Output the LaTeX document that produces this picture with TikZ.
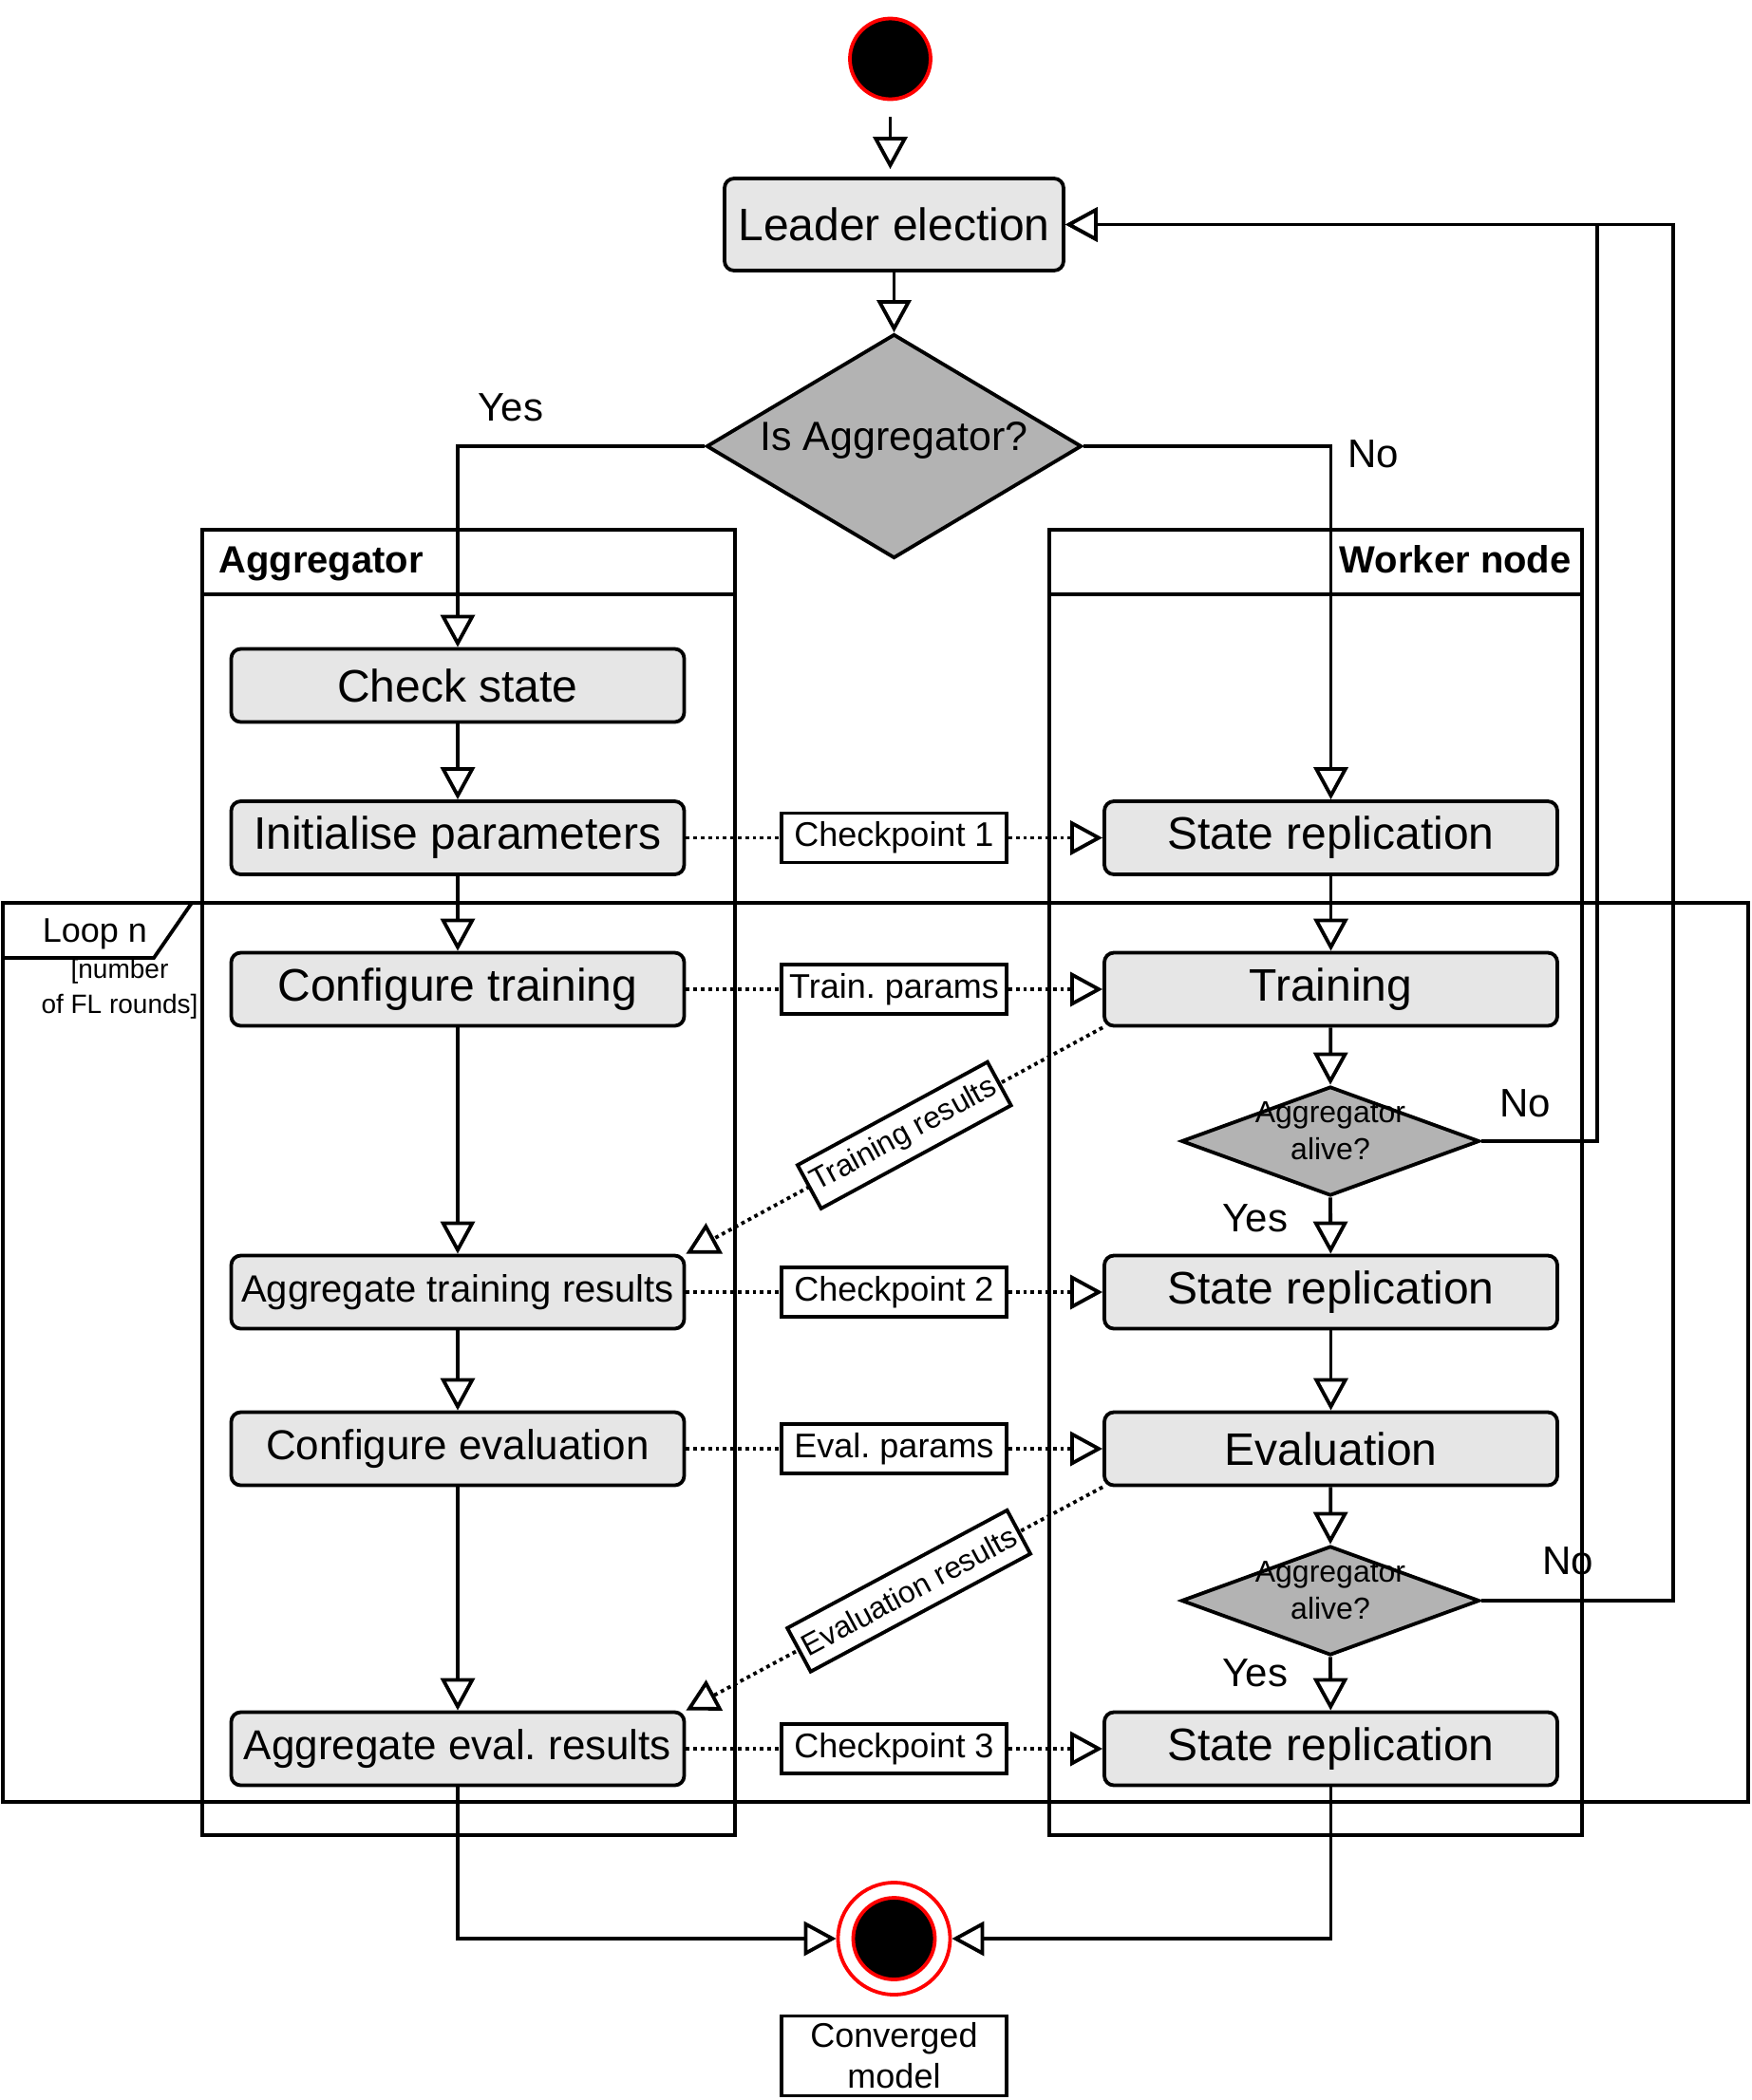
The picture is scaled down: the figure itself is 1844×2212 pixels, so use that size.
\documentclass[tikz,border=0pt]{standalone}
\usepackage{fontspec}
\setmainfont{Liberation Sans}
\usetikzlibrary{arrows.meta,shapes.geometric,calc}
\definecolor{boxgray}{HTML}{E6E6E6}
\definecolor{diagray}{HTML}{B3B3B3}
\definecolor{ured}{HTML}{FF0000}
\newcommand\fsz[2]{\fontsize{#1}{#2}\selectfont}
\frenchspacing
\begin{document}
\begin{tikzpicture}[x=0.5pt,y=-0.5pt,
  every node/.style={font=\fsz{24pt}{28pt}},
  lw/.style={line width=1.9pt},
  act/.style={draw, lw, rounded corners=5pt, fill=boxgray, minimum width=238.5pt, minimum height=38.5pt, inner sep=0pt},
  dec/.style={draw, lw, diamond, fill=diagray, inner sep=0pt},
  tagbox/.style={draw, lw, solid, fill=white, minimum width=118.5pt, minimum height=26pt, inner sep=0pt, font=\fsz{18pt}{21.5pt}},
  flow/.style={lw, -{Triangle[length=17pt,width=18pt,fill=white]}},
  msg/.style={lw, dotted},
  msga/.style={lw, dotted, -{Triangle[length=17pt,width=18pt,fill=white]}},
  lane/.style={draw, lw},
  lbl/.style={font=\fsz{21pt}{25pt}, inner sep=0pt, anchor=base},
  dectext/.style={font=\fsz{16pt}{19.5pt}, align=center, inner sep=0pt},
]
\useasboundingbox (0,0) rectangle (1844,2212);

% swimlanes
\draw[lane] (213,558) rectangle (774,1933);
\draw[lane] (213,626) -- (774,626);
\draw[lane] (1105,558) rectangle (1666,1933);
\draw[lane] (1105,626) -- (1666,626);
\node[font=\bfseries\fsz{20pt}{24pt}, anchor=base west, inner sep=0pt] (aghead) at (230,603) {Aggregator};
\node[font=\bfseries\fsz{20pt}{24pt}, anchor=base east, inner sep=0pt] (wkhead) at (1655,603) {Worker node};

% loop frame
\draw[lane] (3,951) rectangle (1841,1898);
\draw[lane] (3,1009) -- (162,1009) -- (202,951);
\node[font=\fsz{18pt}{21pt}, anchor=base, inner sep=0pt] (loopn) at (100,992) {Loop n};
\node[font=\fsz{14pt}{18.5pt}, align=center, anchor=north, inner sep=0pt] (loopcond) at (126,1010) {[number\\of FL rounds]};

% start / leader / decision
\node[circle, draw=ured, fill=black, lw, minimum size=42.5pt, inner sep=0pt] (start) at (937.5,62) {};
\node[act, minimum width=178.5pt, minimum height=48.5pt] (leader) at (941.5,236.5) {Leader election};
\node[dec, minimum width=197.5pt, minimum height=118pt] (isagg) at (941.5,470) {};
\node[font=\fsz{21.5pt}{25pt}, inner sep=0pt] (isaggtxt) at (941.5,464) {Is Aggregator?};

% aggregator column
\node[act] (check) at (482,722) {Check state};
\node[act] (init) at (482,882.5) {Initialise parameters};
\node[act] (conftrain) at (482,1042) {Configure training};
\node[act, font=\fsz{20pt}{24pt}] (aggtrain) at (482,1361) {Aggregate training results};
\node[act, font=\fsz{22pt}{26pt}] (confeval) at (482,1526) {Configure evaluation};
\node[act, font=\fsz{22pt}{26pt}] (aggeval) at (482,1842) {Aggregate eval. results};

% worker column
\node[act] (rep1) at (1401.5,882.5) {State replication};
\node[act] (train) at (1401.5,1042) {Training};
\node[dec, minimum width=157pt, minimum height=57.5pt] (alive1) at (1401,1202) {};
\node[dectext] (alive1txt) at (1401,1191) {Aggregator\\alive?};
\node[act] (rep2) at (1401.5,1361) {State replication};
\node[act] (evalu) at (1401.5,1526) {Evaluation};
\node[dec, minimum width=157pt, minimum height=57.5pt] (alive2) at (1401,1686) {};
\node[dectext] (alive2txt) at (1401,1675) {Aggregator\\alive?};
\node[act] (rep3) at (1401.5,1842) {State replication};

% messages
\node[tagbox] (cp1) at (941.5,882.5) {Checkpoint 1};
\node[tagbox] (tp) at (941.5,1042) {Train. params};
\node[tagbox] (cp2) at (941.5,1361) {Checkpoint 2};
\node[tagbox] (ep) at (941.5,1526) {Eval. params};
\node[tagbox] (cp3) at (941.5,1842) {Checkpoint 3};

% end
\node[circle, draw=ured, fill=white, lw, minimum size=59pt, inner sep=0pt] (endo) at (941.5,2042) {};
\node[circle, draw=ured, fill=black, lw, minimum size=43pt, inner sep=0pt] (endi) at (941.5,2042) {};
\node[tagbox, minimum height=42pt, align=center] (conv) at (941.5,2165.5) {Converged\\model};

% labels
\node[lbl] (yes0) at (538,443) {Yes};
\node[lbl] (no0) at (1446,492) {No};
\node[lbl] (yes1) at (1322,1297) {Yes};
\node[lbl] (yes2) at (1322,1776) {Yes};
\node[lbl] (no1) at (1606,1176) {No};
\node[lbl] (no2) at (1651,1658) {No};

\coordinate (r1) at (1682,600);
\coordinate (r2) at (1762,600);

% control flow
\draw[flow, shorten <=8.5pt, shorten >=4pt] (start.south) -- (start.south |- leader.north);
\draw[flow] (leader) -- (isagg);
\draw[flow] (isagg.west) -| (check.north);
\draw[flow] (isagg.east) -| (rep1.north);
\draw[flow] (check) -- (init);
\draw[flow] (init) -- (conftrain);
\draw[flow] (conftrain) -- (aggtrain);
\draw[flow] (aggtrain) -- (confeval);
\draw[flow] (confeval) -- (aggeval);
\draw[flow] (aggeval.south) |- (endo.west);
\draw[flow] (rep1) -- (train);
\draw[flow] (train) -- (alive1.north);
\draw[flow] (alive1.south) -- (rep2);
\draw[flow] (rep2) -- (evalu);
\draw[flow] (evalu) -- (alive2.north);
\draw[flow] (alive2.south) -- (rep3);
\draw[flow] (rep3.south) |- (endo.east);
\draw[flow] (alive1.east) -| (r1) |- (leader.east);
\draw[flow] (alive2.east) -| (r2) |- (leader.east);

% message flow
\draw[msg] (init) -- (cp1);
\draw[msga] (cp1) -- (rep1);
\draw[msg] (conftrain) -- (tp);
\draw[msga] (tp) -- (train);
\draw[msg] (aggtrain) -- (cp2);
\draw[msga] (cp2) -- (rep2);
\draw[msg] (confeval) -- (ep);
\draw[msga] (ep) -- (evalu);
\draw[msg] (aggeval) -- (cp3);
\draw[msga] (cp3) -- (rep3);
\draw[msga] (train.south west) -- node[pos=0.476, sloped, tagbox, minimum width=0pt, inner xsep=2.5pt, font=\fsz{16pt}{19pt}] (trres) {Training results} (aggtrain.north east);
\draw[msga] (evalu.south west) -- node[pos=0.465, sloped, tagbox, minimum width=0pt, inner xsep=2.5pt, font=\fsz{16pt}{19pt}] (evres) {Evaluation results} (aggeval.north east);
\end{tikzpicture}
\end{document}
